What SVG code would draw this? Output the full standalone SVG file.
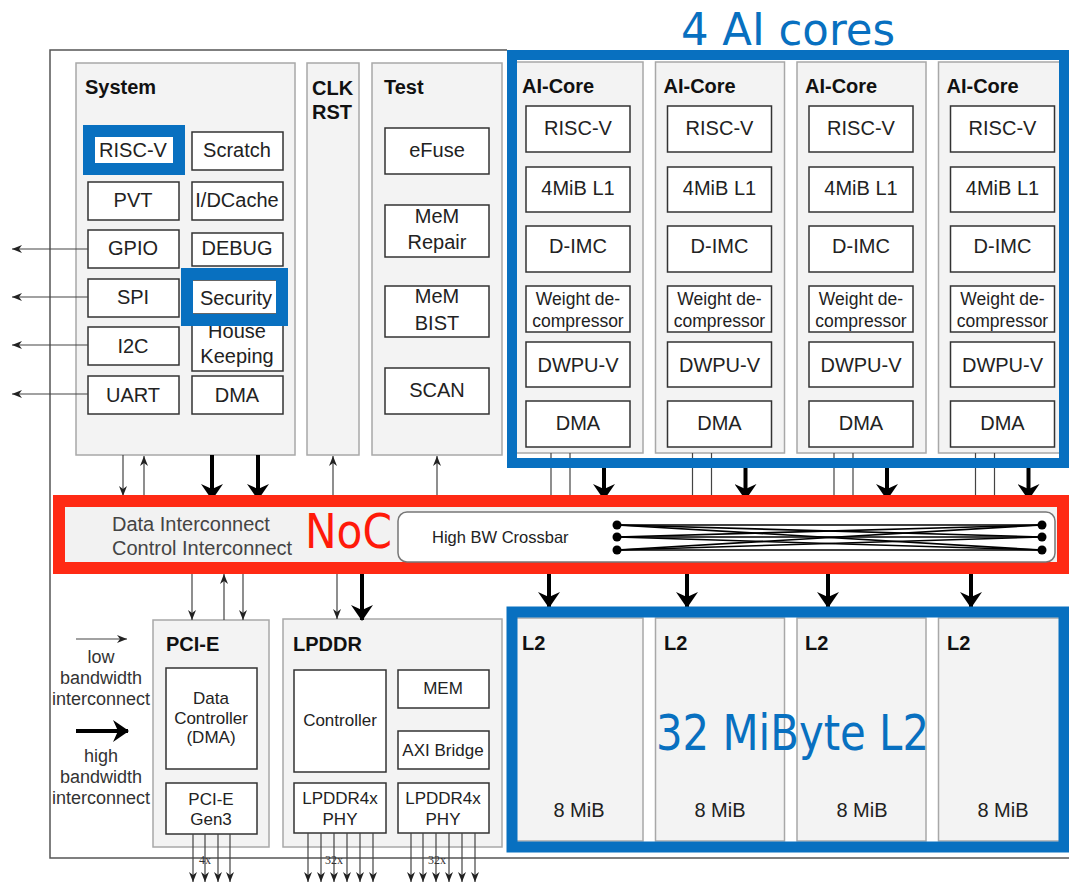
<svg xmlns="http://www.w3.org/2000/svg" width="1069" height="883" viewBox="0 0 1069 883">
<style>
text{font-family:"Liberation Sans",Arial,sans-serif;fill:#222}
.t{font-size:20px;text-anchor:middle}
.s{font-size:17px;text-anchor:middle}
.w{font-size:17.5px;text-anchor:middle}
.h{font-size:20px;font-weight:bold;fill:#111}
.g{fill:#f3f3f3;stroke:#a8a8a8;stroke-width:1.5}
.b{fill:#fff;stroke:#333;stroke-width:1.5}
.blue{fill:none;stroke:#0870c0}
.big{font-family:"DejaVu Sans",Verdana,sans-serif;font-size:48px}
.thin{stroke:#444;stroke-width:1.2;fill:none}
.thick{stroke:#000;stroke-width:4;fill:none}
.lg{font-size:18px;text-anchor:middle;fill:#333}
.mul{font-family:"Liberation Serif",serif;font-size:12px;text-anchor:middle;fill:#333}
</style>
<defs>
<marker id="ah" viewBox="0 0 10 8" markerWidth="10" markerHeight="8" refX="10" refY="4" orient="auto" markerUnits="userSpaceOnUse"><path d="M0,0 L10,4 L0,8 L3,4 z" fill="#222"/></marker>
<marker id="AH" viewBox="0 0 16 22" markerWidth="16" markerHeight="22" refX="15" refY="11" orient="auto" markerUnits="userSpaceOnUse"><path d="M0,0 L16,11 L0,22 L5,11 z" fill="#000"/></marker>
</defs>
<rect width="1069" height="883" fill="#fff"/>
<path d="M1069,858 H50 V50 H507" fill="none" stroke="#555" stroke-width="1.5"/>

<g id="system">
<rect class="g" x="76" y="63" width="219" height="392"/>
<text class="h" x="85" y="94">System</text>
<rect class="b" x="88" y="132" width="91" height="38"/><text class="t" x="133" y="157">RISC-V</text>
<rect class="b" x="192" y="132" width="91" height="38"/><text class="t" x="237" y="157">Scratch</text>
<rect class="b" x="88" y="182" width="91" height="38"/><text class="t" x="133" y="207">PVT</text>
<rect class="b" x="192" y="182" width="91" height="38"/><text class="t" x="237" y="207">I/DCache</text>
<rect class="b" x="88" y="230" width="91" height="38"/><text class="t" x="133" y="255">GPIO</text>
<rect class="b" x="192" y="233" width="91" height="33"/><text class="t" x="237" y="255">DEBUG</text>
<rect class="b" x="88" y="279" width="91" height="38"/><text class="t" x="133" y="304">SPI</text>
<rect class="b" x="192" y="316" width="91" height="55"/><text class="t" x="237" y="338">House</text><text class="t" x="237" y="363">Keeping</text>
<rect class="b" x="192" y="280" width="91" height="34"/><text class="t" x="236" y="305">Security</text>
<rect class="b" x="88" y="327" width="91" height="38"/><text class="t" x="133" y="353">I2C</text>
<rect class="b" x="88" y="376" width="91" height="38"/><text class="t" x="133" y="402">UART</text>
<rect class="b" x="192" y="376" width="91" height="38"/><text class="t" x="237" y="402">DMA</text>
<rect class="blue" x="89" y="131" width="90" height="38" stroke-width="12"/>
<rect class="blue" x="187" y="274" width="95" height="46" stroke-width="12"/>
</g>

<g id="clkrst">
<rect class="g" x="307" y="63" width="52" height="392"/>
<text class="h" x="312" y="95">CLK</text><text class="h" x="312" y="119">RST</text>
</g>

<g id="test">
<rect class="g" x="372" y="63" width="130" height="392"/>
<text class="h" x="384" y="94">Test</text>
<rect class="b" x="385" y="128" width="104" height="46"/><text class="t" x="437" y="157">eFuse</text>
<rect class="b" x="385" y="205" width="104" height="52"/><text class="t" x="437" y="223">MeM</text><text class="t" x="437" y="249">Repair</text>
<rect class="b" x="385" y="286" width="104" height="51"/><text class="t" x="437" y="303">MeM</text><text class="t" x="437" y="330">BIST</text>
<rect class="b" x="385" y="368" width="104" height="46"/><text class="t" x="437" y="397">SCAN</text>
</g>

<g id="aicore1" transform="translate(514,0)">
<rect class="g" x="0" y="62" width="129" height="391"/>
<text class="h" x="8" y="93">AI-Core</text>
<rect class="b" x="12" y="106" width="104" height="46"/><text class="t" x="64" y="135">RISC-V</text>
<rect class="b" x="12" y="167" width="104" height="45"/><text class="t" x="64" y="195">4MiB L1</text>
<rect class="b" x="12" y="226" width="104" height="46"/><text class="t" x="64" y="253">D-IMC</text>
<rect class="b" x="12" y="286" width="104" height="46"/><text class="w" x="64" y="305">Weight de-</text><text class="w" x="64" y="327">compressor</text>
<rect class="b" x="12" y="342" width="104" height="45"/><text class="t" x="64" y="372">DWPU-V</text>
<rect class="b" x="12" y="401" width="104" height="46"/><text class="t" x="64" y="430">DMA</text>
</g>
<g id="aicore2" transform="translate(655.5,0)">
<rect class="g" x="0" y="62" width="129" height="391"/>
<text class="h" x="8" y="93">AI-Core</text>
<rect class="b" x="12" y="106" width="104" height="46"/><text class="t" x="64" y="135">RISC-V</text>
<rect class="b" x="12" y="167" width="104" height="45"/><text class="t" x="64" y="195">4MiB L1</text>
<rect class="b" x="12" y="226" width="104" height="46"/><text class="t" x="64" y="253">D-IMC</text>
<rect class="b" x="12" y="286" width="104" height="46"/><text class="w" x="64" y="305">Weight de-</text><text class="w" x="64" y="327">compressor</text>
<rect class="b" x="12" y="342" width="104" height="45"/><text class="t" x="64" y="372">DWPU-V</text>
<rect class="b" x="12" y="401" width="104" height="46"/><text class="t" x="64" y="430">DMA</text>
</g>
<g id="aicore3" transform="translate(797,0)">
<rect class="g" x="0" y="62" width="129" height="391"/>
<text class="h" x="8" y="93">AI-Core</text>
<rect class="b" x="12" y="106" width="104" height="46"/><text class="t" x="64" y="135">RISC-V</text>
<rect class="b" x="12" y="167" width="104" height="45"/><text class="t" x="64" y="195">4MiB L1</text>
<rect class="b" x="12" y="226" width="104" height="46"/><text class="t" x="64" y="253">D-IMC</text>
<rect class="b" x="12" y="286" width="104" height="46"/><text class="w" x="64" y="305">Weight de-</text><text class="w" x="64" y="327">compressor</text>
<rect class="b" x="12" y="342" width="104" height="45"/><text class="t" x="64" y="372">DWPU-V</text>
<rect class="b" x="12" y="401" width="104" height="46"/><text class="t" x="64" y="430">DMA</text>
</g>
<g id="aicore4" transform="translate(938.5,0)">
<rect class="g" x="0" y="62" width="129" height="391"/>
<text class="h" x="8" y="93">AI-Core</text>
<rect class="b" x="12" y="106" width="104" height="46"/><text class="t" x="64" y="135">RISC-V</text>
<rect class="b" x="12" y="167" width="104" height="45"/><text class="t" x="64" y="195">4MiB L1</text>
<rect class="b" x="12" y="226" width="104" height="46"/><text class="t" x="64" y="253">D-IMC</text>
<rect class="b" x="12" y="286" width="104" height="46"/><text class="w" x="64" y="305">Weight de-</text><text class="w" x="64" y="327">compressor</text>
<rect class="b" x="12" y="342" width="104" height="45"/><text class="t" x="64" y="372">DWPU-V</text>
<rect class="b" x="12" y="401" width="104" height="46"/><text class="t" x="64" y="430">DMA</text>
</g>

<g id="pcie">
<rect class="g" x="153" y="620" width="116" height="227"/>
<text class="h" x="166" y="651">PCI-E</text>
<rect class="b" x="166" y="668" width="91" height="101"/>
<text class="s" x="211" y="704">Data</text><text class="s" x="211" y="724">Controller</text><text class="s" x="211" y="743">(DMA)</text>
<rect class="b" x="166" y="783" width="91" height="51"/>
<text class="s" x="211" y="805">PCI-E</text><text class="s" x="211" y="825">Gen3</text>
</g>

<g id="lpddr">
<rect class="g" x="283" y="619" width="219" height="228"/>
<text class="h" x="293" y="651">LPDDR</text>
<rect class="b" x="294" y="670" width="92" height="102"/><text class="s" x="340" y="726">Controller</text>
<rect class="b" x="398" y="670" width="91" height="38"/><text class="s" x="443" y="694">MEM</text>
<rect class="b" x="398" y="731" width="91" height="38"/><text class="s" x="443" y="756">AXI Bridge</text>
<rect class="b" x="294" y="783" width="92" height="50"/><text class="s" x="340" y="804">LPDDR4x</text><text class="s" x="340" y="825">PHY</text>
<rect class="b" x="398" y="783" width="91" height="50"/><text class="s" x="443" y="804">LPDDR4x</text><text class="s" x="443" y="825">PHY</text>
</g>

<g id="l2">
<rect class="g" x="514" y="618" width="129" height="223"/><text class="h" x="522" y="650">L2</text><text class="t" x="579" y="817" fill="#444">8 MiB</text>
<rect class="g" x="655.5" y="618" width="129" height="223"/><text class="h" x="664" y="650">L2</text><text class="t" x="720" y="817" fill="#444">8 MiB</text>
<rect class="g" x="797" y="618" width="129" height="223"/><text class="h" x="805" y="650">L2</text><text class="t" x="862" y="817" fill="#444">8 MiB</text>
<rect class="g" x="938.5" y="618" width="129" height="223"/><text class="h" x="947" y="650">L2</text><text class="t" x="1003" y="817" fill="#444">8 MiB</text>
</g>

<g id="legend">
<line class="thin" x1="76" y1="639" x2="127" y2="639" marker-end="url(#ah)"/>
<text class="lg" x="101" y="663">low</text><text class="lg" x="101" y="684">bandwidth</text><text class="lg" x="101" y="705">interconnect</text>
<line class="thick" x1="76" y1="731" x2="128" y2="731" marker-end="url(#AH)"/>
<text class="lg" x="101" y="762">high</text><text class="lg" x="101" y="783">bandwidth</text><text class="lg" x="101" y="804">interconnect</text>
</g>

<g id="connectors">
<line class="thin" x1="88" y1="249" x2="12" y2="249" marker-end="url(#ah)"/>
<line class="thin" x1="88" y1="297" x2="12" y2="297" marker-end="url(#ah)"/>
<line class="thin" x1="88" y1="345" x2="12" y2="345" marker-end="url(#ah)"/>
<line class="thin" x1="88" y1="394" x2="12" y2="394" marker-end="url(#ah)"/>
<line class="thin" x1="123" y1="455" x2="123" y2="496" marker-end="url(#ah)"/>
<line class="thin" x1="144" y1="495" x2="144" y2="456" marker-end="url(#ah)"/>
<line class="thin" x1="333" y1="495" x2="333" y2="456" marker-end="url(#ah)"/>
<line class="thin" x1="437" y1="495" x2="437" y2="456" marker-end="url(#ah)"/>
<line class="thick" x1="212" y1="455" x2="212" y2="499" marker-end="url(#AH)"/>
<line class="thick" x1="258" y1="455" x2="258" y2="499" marker-end="url(#AH)"/>
<line class="thin" x1="551" y1="453" x2="551" y2="495"/><line class="thin" x1="570" y1="453" x2="570" y2="495"/>
<line class="thin" x1="692.5" y1="453" x2="692.5" y2="495"/><line class="thin" x1="711.5" y1="453" x2="711.5" y2="495"/>
<line class="thin" x1="834" y1="453" x2="834" y2="495"/><line class="thin" x1="853" y1="453" x2="853" y2="495"/>
<line class="thin" x1="975.5" y1="453" x2="975.5" y2="495"/><line class="thin" x1="994.5" y1="453" x2="994.5" y2="495"/>
<line class="thick" x1="604" y1="465" x2="604" y2="499" marker-end="url(#AH)"/>
<line class="thick" x1="745.5" y1="465" x2="745.5" y2="499" marker-end="url(#AH)"/>
<line class="thick" x1="887" y1="465" x2="887" y2="499" marker-end="url(#AH)"/>
<line class="thick" x1="1028.5" y1="465" x2="1028.5" y2="499" marker-end="url(#AH)"/>
<line class="thin" x1="192" y1="574" x2="192" y2="620" marker-end="url(#ah)"/>
<line class="thin" x1="224" y1="620" x2="224" y2="574" marker-end="url(#ah)"/>
<line class="thin" x1="243" y1="574" x2="243" y2="620" marker-end="url(#ah)"/>
<line class="thin" x1="337" y1="574" x2="337" y2="619" marker-end="url(#ah)"/>
<line class="thick" x1="362" y1="574" x2="362" y2="620" marker-end="url(#AH)"/>
<line class="thick" x1="549" y1="574" x2="549" y2="607" marker-end="url(#AH)"/>
<line class="thick" x1="687" y1="574" x2="687" y2="607" marker-end="url(#AH)"/>
<line class="thick" x1="828" y1="574" x2="828" y2="607" marker-end="url(#AH)"/>
<line class="thick" x1="971" y1="574" x2="971" y2="607" marker-end="url(#AH)"/>
<g class="thin">
<line x1="193" y1="834" x2="193" y2="882" marker-end="url(#ah)"/><line x1="205" y1="834" x2="205" y2="882" marker-end="url(#ah)"/>
<line x1="218" y1="834" x2="218" y2="882" marker-end="url(#ah)"/><line x1="230" y1="834" x2="230" y2="882" marker-end="url(#ah)"/>
<line x1="308" y1="833" x2="308" y2="882" marker-end="url(#ah)"/><line x1="321" y1="833" x2="321" y2="882" marker-end="url(#ah)"/>
<line x1="334" y1="833" x2="334" y2="882" marker-end="url(#ah)"/><line x1="347" y1="833" x2="347" y2="882" marker-end="url(#ah)"/>
<line x1="360" y1="833" x2="360" y2="882" marker-end="url(#ah)"/><line x1="373" y1="833" x2="373" y2="882" marker-end="url(#ah)"/>
<line x1="411" y1="833" x2="411" y2="882" marker-end="url(#ah)"/><line x1="423" y1="833" x2="423" y2="882" marker-end="url(#ah)"/>
<line x1="436" y1="833" x2="436" y2="882" marker-end="url(#ah)"/><line x1="449" y1="833" x2="449" y2="882" marker-end="url(#ah)"/>
<line x1="462" y1="833" x2="462" y2="882" marker-end="url(#ah)"/><line x1="475" y1="833" x2="475" y2="882" marker-end="url(#ah)"/>
</g>
<text class="mul" x="205" y="864">4x</text>
<text class="mul" x="334" y="864">32x</text>
<text class="mul" x="437" y="864">32x</text>
</g>

<g id="noc">
<rect x="59" y="501" width="1004" height="67" fill="#f2f2f2" stroke="#ff2a14" stroke-width="12"/>
<text x="112" y="531" font-size="20" fill="#444" style="fill:#444">Data Interconnect</text>
<text x="112" y="555" font-size="20" style="fill:#444">Control Interconnect</text>
<text class="big" x="305" y="548" textLength="87" lengthAdjust="spacingAndGlyphs" style="fill:#ff1a0a">NoC</text>
<rect x="398" y="512" width="657" height="50" rx="9" fill="#fff" stroke="#777" stroke-width="1.5"/>
<text x="432" y="543" font-size="16.5" style="fill:#222">High BW Crossbar</text>
<g stroke="#000" stroke-width="1.6">
<line x1="617" y1="525" x2="1042" y2="525"/><line x1="617" y1="525" x2="1042" y2="537"/><line x1="617" y1="525" x2="1042" y2="550"/>
<line x1="617" y1="537" x2="1042" y2="525"/><line x1="617" y1="537" x2="1042" y2="537"/><line x1="617" y1="537" x2="1042" y2="550"/>
<line x1="617" y1="550" x2="1042" y2="525"/><line x1="617" y1="550" x2="1042" y2="537"/><line x1="617" y1="550" x2="1042" y2="550"/>
</g>
<g fill="#000">
<circle cx="617" cy="525" r="4.5"/><circle cx="617" cy="537" r="4.5"/><circle cx="617" cy="550" r="4.5"/>
<circle cx="1042" cy="525" r="4.5"/><circle cx="1042" cy="537" r="4.5"/><circle cx="1042" cy="550" r="4.5"/>
</g>
</g>

<g id="ai-group">
<rect class="blue" x="512" y="55" width="552" height="408" stroke-width="10"/>
<text class="big" x="681" y="45" font-size="44" textLength="214" lengthAdjust="spacingAndGlyphs" style="fill:#0870c0;font-size:44px">4 AI cores</text>
</g>
<g id="l2-group">
<rect class="blue" x="512" y="612" width="552" height="235" stroke-width="11"/>
<text class="big" x="656" y="750" textLength="273" lengthAdjust="spacingAndGlyphs" style="fill:#0870c0;font-size:50px">32 MiByte L2</text>
</g>
</svg>
